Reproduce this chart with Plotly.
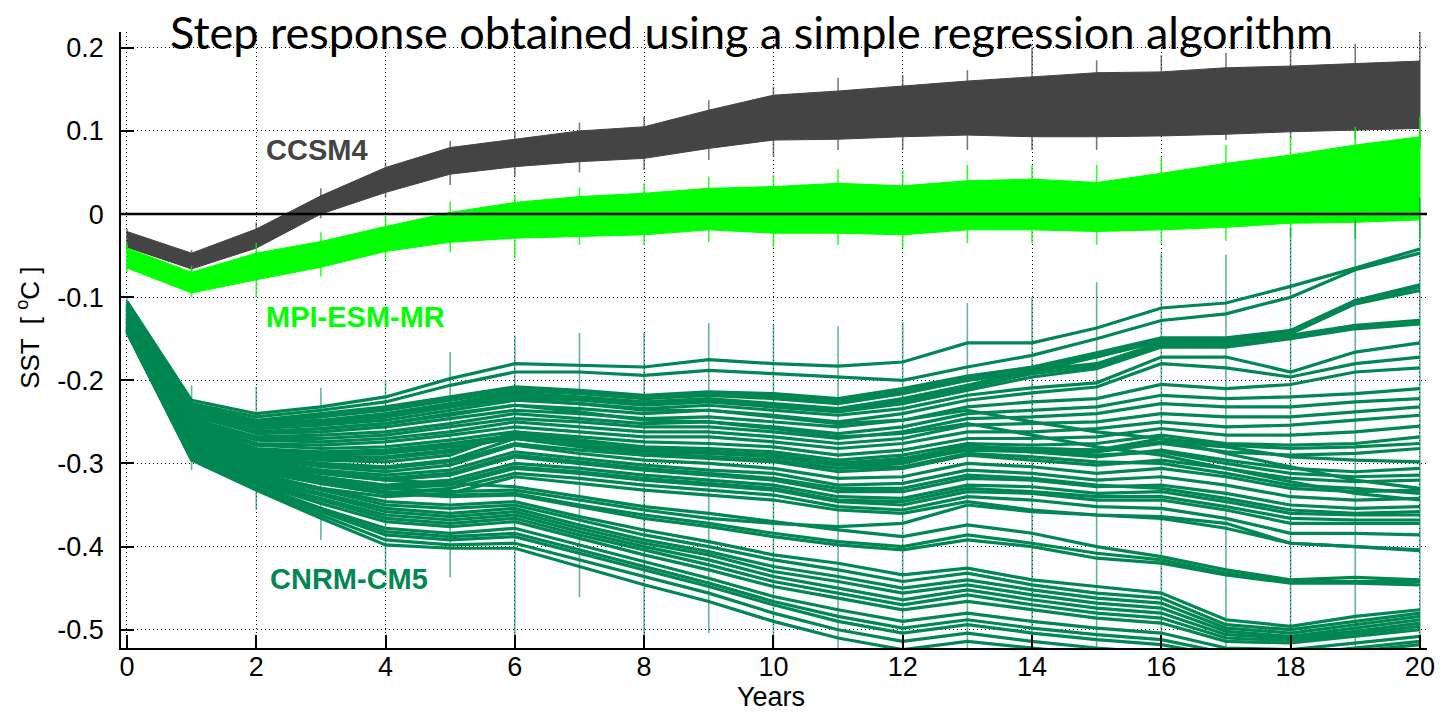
import plotly.graph_objects as go

# ---------------------------------------------------------------- data
years = list(range(21))

# CCSM4 ensemble envelope (upper / lower member), degC
ccsm_upper = [-0.021, -0.047, -0.018, 0.022, 0.056, 0.080, 0.090, 0.100, 0.105, 0.125, 0.143,
              0.148, 0.154, 0.160, 0.165, 0.170, 0.171, 0.176, 0.178, 0.181, 0.184]
ccsm_lower = [-0.040, -0.066, -0.041, 0.000, 0.026, 0.048, 0.057, 0.063, 0.067, 0.079, 0.089,
              0.090, 0.093, 0.095, 0.093, 0.093, 0.094, 0.096, 0.099, 0.101, 0.103]
ccsm_bar_hi = [-0.018, -0.043, -0.010, 0.031, 0.062, 0.088, 0.100, 0.110, 0.117, 0.137, 0.153,
               0.164, 0.167, 0.173, 0.200, 0.185, 0.191, 0.194, 0.200, 0.205, 0.219]
ccsm_bar_lo = [-0.045, -0.070, -0.042, -0.005, 0.020, 0.035, 0.045, 0.050, 0.053, 0.065, 0.069,
               0.077, 0.077, 0.077, 0.077, 0.077, 0.093, 0.089, 0.090, 0.090, 0.080]

# MPI-ESM-MR ensemble envelope
mpi_upper = [-0.041, -0.070, -0.047, -0.033, -0.015, 0.002, 0.014, 0.021, 0.025, 0.031, 0.033,
             0.037, 0.034, 0.040, 0.042, 0.038, 0.049, 0.061, 0.071, 0.083, 0.093]
mpi_lower = [-0.065, -0.095, -0.079, -0.064, -0.045, -0.034, -0.029, -0.027, -0.025, -0.019, -0.023,
             -0.023, -0.025, -0.019, -0.019, -0.021, -0.019, -0.016, -0.011, -0.010, -0.007]
mpi_bar_hi = [-0.035, -0.062, -0.035, -0.022, -0.002, 0.015, 0.023, 0.032, 0.037, 0.045, 0.047,
              0.054, 0.053, 0.059, 0.059, 0.059, 0.069, 0.083, 0.093, 0.105, 0.117]
mpi_bar_lo = [-0.070, -0.100, -0.100, -0.075, -0.055, -0.046, -0.053, -0.037, -0.037, -0.034, -0.040,
              -0.037, -0.041, -0.035, -0.035, -0.037, -0.036, -0.032, -0.028, -0.030, -0.030]

# CNRM-CM5 members
cnrm_members = [
    [-0.105, -0.224, -0.240, -0.232, -0.220, -0.198, -0.180, -0.182, -0.184, -0.175, -0.180,
     -0.183, -0.178, -0.155, -0.155, -0.137, -0.113, -0.107, -0.087, -0.065, -0.042],
    [-0.107, -0.228, -0.244, -0.236, -0.226, -0.206, -0.190, -0.190, -0.194, -0.188, -0.192,
     -0.196, -0.200, -0.184, -0.170, -0.150, -0.128, -0.120, -0.100, -0.067, -0.047],
    [-0.108, -0.230, -0.248, -0.240, -0.232, -0.220, -0.208, -0.212, -0.218, -0.214, -0.216,
     -0.222, -0.210, -0.195, -0.184, -0.167, -0.149, -0.149, -0.140, -0.104, -0.085],
    [-0.109, -0.231, -0.249, -0.242, -0.234, -0.222, -0.210, -0.214, -0.220, -0.216, -0.219,
     -0.225, -0.213, -0.198, -0.187, -0.170, -0.151, -0.150, -0.142, -0.106, -0.088],
    [-0.110, -0.232, -0.250, -0.244, -0.236, -0.224, -0.212, -0.216, -0.222, -0.218, -0.222,
     -0.228, -0.216, -0.200, -0.190, -0.172, -0.153, -0.152, -0.144, -0.108, -0.092],
    [-0.110, -0.234, -0.252, -0.248, -0.240, -0.228, -0.215, -0.220, -0.226, -0.222, -0.228,
     -0.234, -0.222, -0.206, -0.188, -0.180, -0.155, -0.155, -0.146, -0.134, -0.128],
    [-0.111, -0.235, -0.254, -0.249, -0.242, -0.230, -0.218, -0.222, -0.228, -0.224, -0.230,
     -0.236, -0.225, -0.209, -0.192, -0.183, -0.158, -0.158, -0.148, -0.136, -0.130],
    [-0.112, -0.236, -0.256, -0.250, -0.244, -0.232, -0.220, -0.224, -0.230, -0.226, -0.232,
     -0.238, -0.228, -0.212, -0.196, -0.186, -0.160, -0.160, -0.150, -0.138, -0.132],
    [-0.112, -0.238, -0.258, -0.254, -0.248, -0.236, -0.224, -0.228, -0.234, -0.230, -0.236,
     -0.242, -0.234, -0.218, -0.209, -0.203, -0.172, -0.172, -0.190, -0.166, -0.155],
    [-0.113, -0.239, -0.258, -0.252, -0.244, -0.232, -0.222, -0.228, -0.236, -0.236, -0.244,
     -0.252, -0.248, -0.236, -0.250, -0.262, -0.270, -0.288, -0.304, -0.320, -0.330],
    [-0.114, -0.240, -0.262, -0.258, -0.252, -0.240, -0.230, -0.234, -0.240, -0.236, -0.242,
     -0.250, -0.240, -0.224, -0.215, -0.208, -0.180, -0.185, -0.196, -0.180, -0.172],
    [-0.114, -0.242, -0.264, -0.262, -0.256, -0.246, -0.236, -0.240, -0.246, -0.244, -0.250,
     -0.256, -0.248, -0.232, -0.226, -0.222, -0.205, -0.210, -0.205, -0.190, -0.185],
    [-0.115, -0.243, -0.262, -0.258, -0.252, -0.242, -0.230, -0.238, -0.248, -0.250, -0.258,
     -0.268, -0.264, -0.252, -0.266, -0.280, -0.290, -0.306, -0.322, -0.336, -0.344],
    [-0.116, -0.246, -0.268, -0.266, -0.262, -0.252, -0.240, -0.246, -0.252, -0.250, -0.256,
     -0.264, -0.256, -0.240, -0.236, -0.232, -0.218, -0.222, -0.220, -0.216, -0.210],
    [-0.116, -0.248, -0.270, -0.270, -0.266, -0.256, -0.246, -0.250, -0.256, -0.256, -0.262,
     -0.270, -0.262, -0.246, -0.244, -0.240, -0.228, -0.232, -0.232, -0.226, -0.222],
    [-0.118, -0.250, -0.272, -0.274, -0.270, -0.262, -0.250, -0.256, -0.262, -0.262, -0.268,
     -0.276, -0.270, -0.254, -0.252, -0.250, -0.240, -0.244, -0.244, -0.238, -0.232],
    [-0.118, -0.252, -0.276, -0.278, -0.274, -0.266, -0.256, -0.262, -0.268, -0.268, -0.274,
     -0.282, -0.276, -0.262, -0.262, -0.258, -0.250, -0.256, -0.254, -0.248, -0.242],
    [-0.120, -0.254, -0.278, -0.282, -0.280, -0.272, -0.262, -0.268, -0.274, -0.276, -0.280,
     -0.290, -0.284, -0.270, -0.270, -0.268, -0.258, -0.266, -0.266, -0.262, -0.255],
    [-0.120, -0.256, -0.282, -0.286, -0.284, -0.276, -0.266, -0.272, -0.280, -0.282, -0.286,
     -0.296, -0.290, -0.276, -0.278, -0.276, -0.266, -0.276, -0.278, -0.276, -0.268],
    [-0.121, -0.257, -0.283, -0.288, -0.286, -0.278, -0.268, -0.275, -0.283, -0.285, -0.290,
     -0.300, -0.296, -0.282, -0.284, -0.290, -0.286, -0.300, -0.312, -0.316, -0.314],
    [-0.122, -0.258, -0.284, -0.290, -0.288, -0.280, -0.270, -0.278, -0.286, -0.288, -0.292,
     -0.302, -0.298, -0.284, -0.286, -0.286, -0.276, -0.286, -0.290, -0.288, -0.282],
    [-0.123, -0.260, -0.285, -0.292, -0.292, -0.284, -0.268, -0.276, -0.284, -0.286, -0.290,
     -0.300, -0.294, -0.280, -0.282, -0.284, -0.274, -0.280, -0.292, -0.296, -0.298],
    [-0.124, -0.262, -0.288, -0.296, -0.298, -0.290, -0.262, -0.272, -0.282, -0.286, -0.290,
     -0.300, -0.296, -0.278, -0.286, -0.292, -0.284, -0.296, -0.306, -0.310, -0.306],
    [-0.125, -0.262, -0.287, -0.294, -0.294, -0.286, -0.266, -0.276, -0.288, -0.292, -0.296,
     -0.306, -0.304, -0.288, -0.292, -0.298, -0.300, -0.312, -0.326, -0.330, -0.336],
    [-0.126, -0.264, -0.290, -0.300, -0.304, -0.296, -0.270, -0.280, -0.290, -0.294, -0.298,
     -0.310, -0.306, -0.290, -0.296, -0.302, -0.296, -0.306, -0.318, -0.322, -0.320],
    [-0.126, -0.266, -0.294, -0.304, -0.310, -0.302, -0.278, -0.288, -0.296, -0.300, -0.306,
     -0.318, -0.316, -0.300, -0.304, -0.312, -0.306, -0.316, -0.330, -0.334, -0.332],
    [-0.127, -0.266, -0.292, -0.302, -0.306, -0.298, -0.276, -0.284, -0.290, -0.292, -0.296,
     -0.306, -0.300, -0.282, -0.282, -0.284, -0.270, -0.278, -0.282, -0.280, -0.276],
    [-0.128, -0.268, -0.296, -0.308, -0.314, -0.308, -0.286, -0.294, -0.302, -0.308, -0.312,
     -0.326, -0.324, -0.308, -0.312, -0.320, -0.316, -0.326, -0.340, -0.344, -0.342],
    [-0.128, -0.270, -0.300, -0.312, -0.320, -0.314, -0.292, -0.300, -0.308, -0.314, -0.320,
     -0.334, -0.334, -0.318, -0.320, -0.328, -0.326, -0.336, -0.350, -0.354, -0.352],
    [-0.129, -0.270, -0.298, -0.310, -0.318, -0.312, -0.290, -0.298, -0.306, -0.312, -0.318,
     -0.330, -0.330, -0.314, -0.318, -0.326, -0.330, -0.342, -0.356, -0.360, -0.358],
    [-0.130, -0.272, -0.302, -0.316, -0.326, -0.320, -0.300, -0.306, -0.314, -0.320, -0.326,
     -0.340, -0.342, -0.326, -0.328, -0.336, -0.334, -0.346, -0.360, -0.362, -0.362],
    [-0.130, -0.274, -0.306, -0.320, -0.330, -0.326, -0.306, -0.312, -0.320, -0.326, -0.332,
     -0.346, -0.350, -0.334, -0.336, -0.344, -0.344, -0.356, -0.372, -0.372, -0.372],
    [-0.131, -0.274, -0.304, -0.318, -0.328, -0.324, -0.304, -0.310, -0.318, -0.324, -0.330,
     -0.344, -0.346, -0.330, -0.334, -0.340, -0.340, -0.352, -0.366, -0.368, -0.368],
    [-0.132, -0.276, -0.308, -0.324, -0.336, -0.330, -0.312, -0.318, -0.326, -0.332, -0.338,
     -0.352, -0.356, -0.340, -0.344, -0.352, -0.354, -0.366, -0.384, -0.384, -0.386],
    [-0.132, -0.278, -0.312, -0.330, -0.340, -0.336, -0.316, -0.324, -0.332, -0.338, -0.344,
     -0.356, -0.360, -0.346, -0.356, -0.362, -0.366, -0.378, -0.396, -0.400, -0.404],
    [-0.134, -0.280, -0.302, -0.312, -0.320, -0.324, -0.328, -0.340, -0.352, -0.360, -0.370,
     -0.380, -0.388, -0.374, -0.384, -0.400, -0.412, -0.428, -0.440, -0.437, -0.440],
    [-0.134, -0.282, -0.306, -0.318, -0.330, -0.334, -0.332, -0.344, -0.356, -0.366, -0.372,
     -0.376, -0.372, -0.350, -0.358, -0.362, -0.364, -0.372, -0.396, -0.400, -0.405],
    [-0.135, -0.283, -0.308, -0.320, -0.334, -0.338, -0.336, -0.350, -0.362, -0.372, -0.384,
     -0.394, -0.400, -0.386, -0.396, -0.408, -0.416, -0.432, -0.442, -0.442, -0.442],
    [-0.136, -0.284, -0.310, -0.324, -0.336, -0.340, -0.338, -0.352, -0.366, -0.376, -0.388,
     -0.398, -0.404, -0.392, -0.400, -0.414, -0.420, -0.434, -0.444, -0.444, -0.446],
    [-0.136, -0.286, -0.314, -0.330, -0.346, -0.350, -0.346, -0.364, -0.380, -0.394, -0.410,
     -0.420, -0.434, -0.426, -0.440, -0.448, -0.456, -0.488, -0.496, -0.484, -0.476],
    [-0.137, -0.287, -0.316, -0.332, -0.350, -0.354, -0.350, -0.368, -0.386, -0.400, -0.416,
     -0.428, -0.442, -0.432, -0.446, -0.456, -0.462, -0.494, -0.500, -0.490, -0.480],
    [-0.138, -0.288, -0.318, -0.336, -0.354, -0.360, -0.354, -0.374, -0.392, -0.406, -0.424,
     -0.436, -0.450, -0.440, -0.452, -0.462, -0.468, -0.498, -0.504, -0.494, -0.484],
    [-0.139, -0.289, -0.320, -0.338, -0.358, -0.364, -0.358, -0.378, -0.396, -0.410, -0.430,
     -0.442, -0.456, -0.446, -0.458, -0.468, -0.474, -0.502, -0.508, -0.498, -0.488],
    [-0.138, -0.290, -0.322, -0.342, -0.362, -0.368, -0.362, -0.382, -0.400, -0.416, -0.436,
     -0.450, -0.464, -0.452, -0.464, -0.474, -0.480, -0.506, -0.510, -0.502, -0.492],
    [-0.139, -0.291, -0.323, -0.344, -0.366, -0.372, -0.366, -0.386, -0.404, -0.422, -0.442,
     -0.456, -0.470, -0.458, -0.470, -0.480, -0.486, -0.510, -0.513, -0.505, -0.496],
    [-0.140, -0.292, -0.324, -0.348, -0.370, -0.376, -0.370, -0.390, -0.410, -0.428, -0.448,
     -0.462, -0.476, -0.466, -0.476, -0.486, -0.492, -0.514, -0.516, -0.508, -0.500],
    [-0.140, -0.292, -0.326, -0.354, -0.378, -0.384, -0.378, -0.398, -0.418, -0.438, -0.460,
     -0.476, -0.490, -0.480, -0.490, -0.498, -0.504, -0.522, -0.524, -0.516, -0.508],
    [-0.141, -0.293, -0.327, -0.356, -0.382, -0.388, -0.384, -0.404, -0.424, -0.444, -0.466,
     -0.484, -0.498, -0.488, -0.498, -0.506, -0.512, -0.528, -0.530, -0.522, -0.514],
    [-0.142, -0.294, -0.328, -0.358, -0.386, -0.392, -0.388, -0.408, -0.428, -0.448, -0.470,
     -0.490, -0.504, -0.494, -0.504, -0.512, -0.518, -0.532, -0.534, -0.526, -0.518],
    [-0.141, -0.295, -0.330, -0.362, -0.392, -0.398, -0.396, -0.416, -0.436, -0.456, -0.480,
     -0.500, -0.514, -0.504, -0.514, -0.522, -0.528, -0.540, -0.542, -0.534, -0.526],
    [-0.142, -0.296, -0.332, -0.366, -0.398, -0.402, -0.402, -0.424, -0.446, -0.466, -0.490,
     -0.510, -0.524, -0.514, -0.522, -0.530, -0.536, -0.546, -0.548, -0.540, -0.532],
]
cnrm_bar_hi = [-0.100, -0.206, -0.208, -0.209, -0.200, -0.166, -0.146, -0.143, -0.143, -0.131, -0.133,
               -0.135, -0.130, -0.107, -0.100, -0.082, -0.047, -0.049, -0.016, -0.004, 0.020]
cnrm_bar_lo = [-0.146, -0.308, -0.356, -0.392, -0.437, -0.437, -0.530, -0.461, -0.530, -0.504, -0.530,
               -0.530, -0.530, -0.530, -0.530, -0.530, -0.530, -0.530, -0.530, -0.530, -0.530]

model_names = ["CCSM4", "MPI-ESM-MR", "CNRM-CM5"]
model_colors = ["#444444", "#00ff00", "#008753"]

y_ticks = [-0.5, -0.4, -0.3, -0.2, -0.1, 0.0, 0.1, 0.2]
y_tick_text = ["-0.5", "-0.4", "-0.3", "-0.2", "-0.1", "0", "0.1", "0.2"]
x_ticks = list(range(0, 21, 2))

# ---------------------------------------------------------------- figure
fig = go.Figure()


def add_band(upper, lower, color):
    fig.add_trace(go.Scatter(x=years, y=lower, mode="lines",
                             line=dict(color=color, width=1), hoverinfo="skip"))
    fig.add_trace(go.Scatter(x=years, y=upper, mode="lines", fill="tonexty",
                             fillcolor=color, line=dict(color=color, width=1),
                             hoverinfo="skip"))


def add_bars(hi, lo, color, opacity):
    bx, by = [], []
    for yr, h, l in zip(years, hi, lo):
        bx += [yr, yr, None]
        by += [l, h, None]
    fig.add_trace(go.Scatter(x=bx, y=by, mode="lines", opacity=opacity,
                             line=dict(color=color, width=1.6), hoverinfo="skip"))


add_band(ccsm_upper, ccsm_lower, model_colors[0])
add_bars(ccsm_bar_hi, ccsm_bar_lo, model_colors[0], 0.7)

add_band(mpi_upper, mpi_lower, model_colors[1])
add_bars(mpi_bar_hi, mpi_bar_lo, model_colors[1], 0.8)

for member in cnrm_members:
    fig.add_trace(go.Scatter(x=years, y=member, mode="lines",
                             line=dict(color=model_colors[2], width=3.2),
                             hoverinfo="skip"))
add_bars(cnrm_bar_hi, cnrm_bar_lo, model_colors[2], 0.6)

# zero reference line
fig.add_shape(type="line", xref="paper", x0=0, x1=1, yref="y", y0=0, y1=0,
              line=dict(color="black", width=2.5), layer="above")

# model labels
label_pos = [(2.12, 0.077), (2.12, -0.124), (2.18, -0.439)]
for name, color, (lx, ly) in zip(model_names, model_colors, label_pos):
    fig.add_annotation(x=lx, y=ly, xref="x", yref="y", text=f"<b>{name}</b>",
                       showarrow=False, xanchor="left", yanchor="middle",
                       font=dict(family="Liberation Sans, Arial", size=29, color=color))

# title and axis titles
fig.add_annotation(x=0.483, y=1.0, xref="paper", yref="paper",
                   text="Step response obtained using a simple regression algorithm",
                   showarrow=False, xanchor="center", yanchor="middle",
                   font=dict(family="Lato", size=45, color="black"))
fig.add_annotation(x=-0.0708, y=0.519, xref="paper", yref="paper",
                   text="SST  [ <sup>o</sup>C ]", textangle=-90,
                   showarrow=False, xanchor="center", yanchor="middle",
                   font=dict(family="Liberation Sans, Arial", size=26, color="black"))
fig.add_annotation(x=0.498, y=-0.0795, xref="paper", yref="paper", text="Years",
                   showarrow=False, xanchor="center", yanchor="middle",
                   font=dict(family="Liberation Sans, Arial", size=27, color="black"))

axis_common = dict(
    showline=True, linecolor="black", linewidth=1.5, mirror=False,
    ticks="inside", ticklen=13, tickwidth=1.5, tickcolor="black",
    showgrid=True, gridcolor="black", gridwidth=1, griddash="1px,3px",
    zeroline=False,
    tickfont=dict(family="Liberation Sans, Arial", size=27, color="black"),
)

fig.update_xaxes(range=[-0.092, 20.11], tickvals=x_ticks, ticklabelstandoff=-6,
                 **axis_common)
fig.update_yaxes(range=[-0.522, 0.219], tickvals=y_ticks, ticktext=y_tick_text,
                 ticklabelstandoff=10, **axis_common)

fig.update_layout(
    width=1447, height=712,
    margin=dict(l=121, r=13, t=32, b=64),
    paper_bgcolor="white", plot_bgcolor="white",
    showlegend=False,
)

fig.write_html("out.html")
